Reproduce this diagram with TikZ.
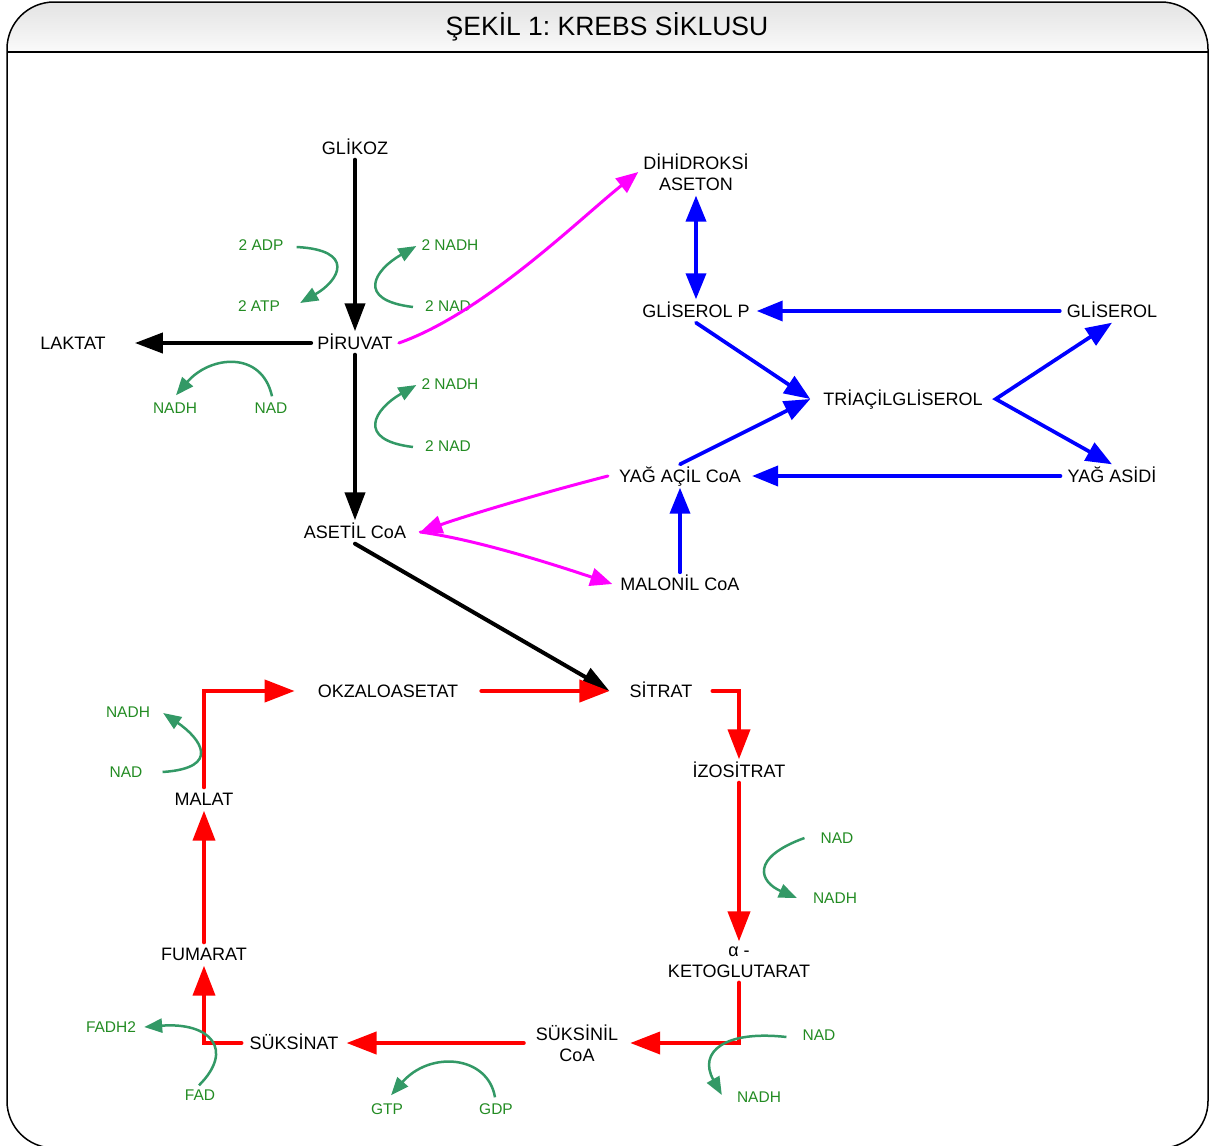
\documentclass[tikz,border=0pt]{standalone}
\usepackage{fontspec}
\setmainfont{Liberation Sans}
\usetikzlibrary{arrows.meta}

\definecolor{pathgreen}{RGB}{51,153,102}
\definecolor{labelgreen}{RGB}{34,139,34}
\definecolor{lipmagenta}{RGB}{255,0,255}
\definecolor{lipblue}{RGB}{0,0,255}
\definecolor{cycred}{RGB}{255,0,0}

\tikzset{
  met/.style={inner sep=5pt, text height=13pt, text depth=0pt, font=\fontsize{18}{21}\selectfont},
  mettwo/.style={inner sep=5pt, align=center, font=\fontsize{18}{21}\selectfont},
  cof/.style={inner sep=0pt, text height=11pt, text depth=0pt, text=labelgreen, font=\fontsize{15.5}{18}\selectfont},
  glyc/.style={line width=4pt, line cap=round, >={Triangle[length=28pt,width=20pt]}, ->},
  cyc/.style={line width=4pt, cycred, line cap=round, >={Triangle[length=30pt,width=22pt]}, ->},
  lip/.style={line width=3.7pt, lipblue, line cap=round, >={Triangle[length=26pt,width=20pt]}, ->},
  mag/.style={line width=3pt, lipmagenta, line cap=round, >={Triangle[length=22pt,width=18pt]}, ->},
  cofarrow/.style={line width=2.5pt, pathgreen, >={Triangle[length=18pt,width=14pt]}, ->},
}

\begin{document}
\frenchspacing
\begin{tikzpicture}[x=1pt, y=-1pt]
\useasboundingbox (0,0) rectangle (1211,1146);

% frame and title
\begin{scope}
  \clip[rounded corners=47pt] (7,2) rectangle (1208,1148);
  \shade[top color=black!11, bottom color=black!2] (7,2) rectangle (1208,52);
\end{scope}
\draw[line width=1.5pt, rounded corners=47pt] (7,2) rectangle (1208,1148);
\draw[line width=2pt] (7,52) -- (1208,52);
\node[font=\fontsize{26.5}{30}\selectfont] (title) at (607,27) {ŞEKİL 1: KREBS SİKLUSU};

% metabolites
\node[met] (glikoz) at (355,148) {GLİKOZ};
\node[met, inner xsep=6pt] (piruvat) at (355,343) {PİRUVAT};
\node[met, inner xsep=29pt] (laktat) at (73,343) {LAKTAT};
\node[met, inner xsep=14pt] (asetil) at (355,532) {ASETİL CoA};
\node[mettwo] (dihidroksi) at (696,172) {DİHİDROKSİ\\ASETON};
\node[met, inner xsep=7pt] (gliserolp) at (696,311) {GLİSEROL P};
\node[met, inner xsep=7pt] (gliserol) at (1112,311) {GLİSEROL};
\node[met, inner xsep=13pt] (triacil) at (903,399) {TRİAÇİLGLİSEROL};
\node[met, inner xsep=11pt] (yagacil) at (680,476) {YAĞ AÇİL CoA};
\node[met, inner xsep=7pt] (yagasidi) at (1112,476) {YAĞ ASİDİ};
\node[met, inner xsep=8pt] (malonil) at (680,584) {MALONİL CoA};
\node[met, inner xsep=23pt] (okzalo) at (388,691) {OKZALOASETAT};
\node[met, inner xsep=20pt] (sitrat) at (661,691) {SİTRAT};
\node[met] (izositrat) at (739,771) {İZOSİTRAT};
\node[mettwo] (keto) at (739,962) {α -\\KETOGLUTARAT};
\node[mettwo, inner xsep=12pt] (suksinil) at (577,1043) {SÜKSİNİL\\CoA};
\node[met, inner xsep=8pt] (suksinat) at (294,1043) {SÜKSİNAT};
\node[met] (fumarat) at (204,954) {FUMARAT};
\node[met] (malat) at (204,799) {MALAT};

% cofactors
\node[cof] (adp1) at (261,245) {2 ADP};
\node[cof] (atp1) at (259,306) {2 ATP};
\node[cof] (nadh1) at (450,245) {2 NADH};
\node[cof] (nad1) at (448,306) {2 NAD};
\node[cof] (nadh2) at (175,408) {NADH};
\node[cof] (nad2) at (271,408) {NAD};
\node[cof] (nadh3) at (450,384) {2 NADH};
\node[cof] (nad3) at (448,446) {2 NAD};
\node[cof] (nadh4) at (128,712) {NADH};
\node[cof] (nad4) at (126,772) {NAD};
\node[cof] (nad5) at (837,838) {NAD};
\node[cof] (nadh5) at (835,898) {NADH};
\node[cof] (nad6) at (819,1035) {NAD};
\node[cof] (nadh6) at (759,1097) {NADH};
\node[cof] (fadh) at (111,1027) {FADH2};
\node[cof] (fad) at (200,1095) {FAD};
\node[cof] (gtp) at (387,1109) {GTP};
\node[cof] (gdp) at (496,1109) {GDP};

% glikoliz
\draw[glyc] (glikoz.south) -- (piruvat.north);
\draw[glyc] (piruvat.west) -- (laktat.east);
\draw[glyc] (piruvat.south) -- (asetil.north);
\draw[glyc] (asetil.south) -- (sitrat.west);

% lipid side
\draw[mag] (piruvat.east) .. controls +(85,-30) and +(-60,48) .. (dihidroksi.west);
\draw[mag] (yagacil.west) .. controls +(-70,18) and +(45,-16) .. (asetil.east);
\draw[mag] (asetil.east) .. controls +(60,8) and +(-45,-15) .. (malonil.west);
\draw[lip, <->] (dihidroksi.south) -- (gliserolp.north);
\draw[lip] (gliserol.west) -- (gliserolp.east);
\draw[lip] (gliserolp.south) -- (triacil.west);
\draw[lip] (yagacil.north) -- (triacil.west);
\draw[lip, <->, line cap=butt] (gliserol.south) -- (triacil.east) -- (yagasidi.north);
\draw[lip] (yagasidi.west) -- (yagacil.east);
\draw[lip] (malonil.north) -- (yagacil.south);

% krebs
\draw[cyc] (okzalo.east) -- (sitrat.west);
\draw[cyc] (sitrat.east) -| (izositrat.north);
\draw[cyc] (izositrat.south) -- (keto.north);
\draw[cyc] (keto.south) |- (suksinil.east);
\draw[cyc] (suksinil.west) -- (suksinat.east);
\draw[cyc] (suksinat.west) -| (fumarat.south);
\draw[cyc] (fumarat.north) -- (malat.south);
\draw[cyc] (malat.north) |- (okzalo.west);

% cofactor arrows
\draw[cofarrow] ([shift={(13,2)}]adp1.east) .. controls +(59,3) and +(40,-23) .. ([shift={(20,-3)}]atp1.east);
\draw[cofarrow] ([shift={(-12,1)}]nad1.west) .. controls +(-58,-7) and +(-42,24) .. ([shift={(-5,1)}]nadh1.west);
\draw[cofarrow] ([shift={(1,-6)}]nad2.north) .. controls +(-10,-46) and +(34,-40) .. ([shift={(1,-7)}]nadh2.north);
\draw[cofarrow] ([shift={(-12,1)}]nad3.west) .. controls +(-58,-7) and +(-42,24) .. ([shift={(-5,1)}]nadh3.west);
\draw[cofarrow] ([shift={(20,0)}]nad4.east) .. controls +(60,-4) and +(37,25) .. ([shift={(13,1)}]nadh4.east);
\draw[cofarrow] ([shift={(-16,0)}]nad5.west) .. controls +(-55,20) and +(-37,-16) .. ([shift={(-16,0)}]nadh5.west);
\draw[cofarrow] ([shift={(-16,2)}]nad6.west) .. controls +(-62,-7) and +(-24,-43) .. ([shift={(-15,-2)}]nadh6.west);
\draw[cofarrow] ([shift={(-1,-4)}]fad.north) .. controls +(36,-36) and +(66,-5) .. ([shift={(8,0)}]fadh.east);
\draw[cofarrow] ([shift={(-1,-6)}]gdp.north) .. controls +(-7,-42) and +(39,-45) .. ([shift={(4,-8)}]gtp.north);
\end{tikzpicture}
\end{document}
